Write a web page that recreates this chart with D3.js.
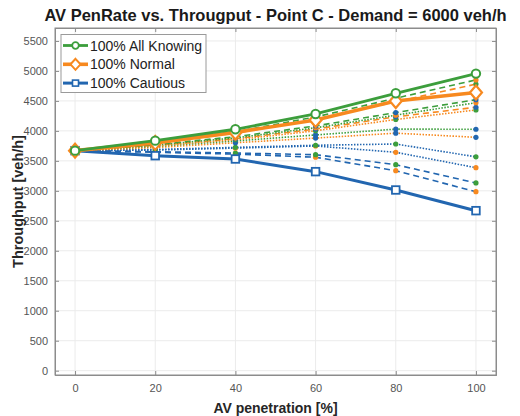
<!DOCTYPE html>
<html><head><meta charset="utf-8">
<script src="https://cdn.jsdelivr.net/npm/d3@7"></script>
<style>
html,body{margin:0;padding:0;background:#fff;}
svg{display:block;font-family:"Liberation Sans",Arial,Helvetica,sans-serif;}
</style></head>
<body>
<svg id="chart" width="520" height="416"></svg>
<script>
// ---- data ----
const penetration = [0, 20, 40, 60, 80, 100];
const xTicks = [0, 20, 40, 60, 80, 100];
const yTicks = [0, 500, 1000, 1500, 2000, 2500, 3000, 3500, 4000, 4500, 5000, 5500];

const allKnowing = [3670, 3837, 4027, 4282, 4627, 4955];
const normal     = [3670, 3800, 3975, 4182, 4499, 4640];
const cautious   = [3670, 3586, 3531, 3320, 3014, 2669];

// thin mixed series: line type, dash style, marker type
const mixG_O_dash = [3670, 3812, 3985, 4232, 4545, 4850];
const mixO_G_dash = [3670, 3800, 3962, 4192, 4485, 4780];
const mixG_B_dash = [3670, 3775, 3902, 4082, 4305, 4520];
const mixG_O_dot  = [3670, 3765, 3882, 4052, 4262, 4470];
const mixO_B_dash = [3670, 3760, 3870, 4030, 4235, 4394];
const mixO_G_dot  = [3670, 3750, 3852, 4002, 4190, 4349];
const mixG_B_dot  = [3670, 3742, 3832, 3932, 4030, 4027];
const mixO_B_dot  = [3670, 3722, 3802, 3880, 3962, 3893];
const mixB_G_dot  = [3670, 3690, 3725, 3760, 3781, 3567];
const mixB_O_dot  = [3670, 3680, 3712, 3748, 3643, 3386];
const mixB_G_dash = [3670, 3652, 3630, 3603, 3436, 3131];
const mixB_O_dash = [3670, 3643, 3612, 3560, 3336, 2986];

const seriesNames = ["100% All Knowing", "100% Normal", "100% Cautious"];

// ---- styling ----
const C = {g: "#3c9e3c", o: "#f7891f", b: "#2266b0"};
const W = 520, H = 416;
const m = {l: 55, r: 24, t: 28, b: 41};
const svg = d3.select("#chart");

const x = d3.scaleLinear().domain([-5, 105]).range([m.l, W - m.r]);
const y = d3.scaleLinear().domain([-72, 5716]).range([H - m.b, m.t]);

// grid
const g = svg.append("g");
g.selectAll(".gx").data(xTicks).join("line")
  .attr("x1", d => x(d)).attr("x2", d => x(d))
  .attr("y1", m.t).attr("y2", H - m.b)
  .attr("stroke", "#ebebeb").attr("stroke-width", 1);
g.selectAll(".gy").data(yTicks).join("line")
  .attr("x1", m.l).attr("x2", W - m.r)
  .attr("y1", d => y(d)).attr("y2", d => y(d))
  .attr("stroke", "#ebebeb").attr("stroke-width", 1);

// axes
const axisCol = "#8c8c8c";
const fmt = d3.format("d");
const xAxis = svg.append("g").attr("transform", `translate(0,${H - m.b})`)
  .call(d3.axisBottom(x).tickValues(xTicks).tickSize(-4).tickPadding(9).tickFormat(fmt));
const xAxisTop = svg.append("g").attr("transform", `translate(0,${m.t})`)
  .call(d3.axisTop(x).tickValues(xTicks).tickSize(-4).tickFormat(""));
const yAxis = svg.append("g").attr("transform", `translate(${m.l},0)`)
  .call(d3.axisLeft(y).tickValues(yTicks).tickSize(-4).tickPadding(7).tickFormat(fmt));
const yAxisR = svg.append("g").attr("transform", `translate(${W - m.r},0)`)
  .call(d3.axisRight(y).tickValues(yTicks).tickSize(-4).tickFormat(""));
[xAxis, xAxisTop, yAxis, yAxisR].forEach(a => {
  a.select(".domain").attr("stroke", axisCol);
  a.selectAll(".tick line").attr("stroke", axisCol);
  a.selectAll("text").attr("fill", "#555").attr("font-size", 11)
    .attr("font-family", "'Liberation Sans',Arial,sans-serif");
});
svg.append("rect").attr("x", m.l).attr("y", m.t)
  .attr("width", W - m.r - m.l).attr("height", H - m.b - m.t)
  .attr("fill", "none").attr("stroke", axisCol).attr("stroke-width", 1);

const line = d3.line().x((d, i) => x(penetration[i])).y(d => y(d));
const plot = svg.append("g");

const thin = [
  {v: mixB_O_dash, c: C.b, mk: C.o, dash: "6,4"},
  {v: mixB_G_dash, c: C.b, mk: C.g, dash: "6,4"},
  {v: mixB_O_dot,  c: C.b, mk: C.o, dash: "1.5,1.5"},
  {v: mixB_G_dot,  c: C.b, mk: C.g, dash: "1.5,1.5"},
  {v: mixO_B_dot,  c: C.o, mk: C.b, dash: "1.5,1.5"},
  {v: mixG_B_dot,  c: C.g, mk: C.b, dash: "1.5,1.5"},
  {v: mixO_G_dot,  c: C.o, mk: C.g, dash: "1.5,1.5"},
  {v: mixO_B_dash, c: C.o, mk: C.b, dash: "6,4"},
  {v: mixG_O_dot,  c: C.g, mk: C.o, dash: "1.5,1.5"},
  {v: mixG_B_dash, c: C.g, mk: C.b, dash: "6,4"},
  {v: mixO_G_dash, c: C.o, mk: C.g, dash: "6,4"},
  {v: mixG_O_dash, c: C.g, mk: C.o, dash: "6,4"}
];
thin.forEach(s => {
  plot.append("path").datum(s.v).attr("d", line)
    .attr("fill", "none").attr("stroke", s.c).attr("stroke-width", 1.6)
    .attr("stroke-dasharray", s.dash);
  plot.append("g").selectAll("circle").data(s.v.slice(1)).join("circle")
    .attr("cx", (d, i) => x(penetration[i + 1])).attr("cy", d => y(d))
    .attr("r", 2.6).attr("fill", s.mk);
});

// thick series
function thick(vals, col, width, marker) {
  plot.append("path").datum(vals).attr("d", line)
    .attr("fill", "none").attr("stroke", col).attr("stroke-width", width);
  const mg = plot.append("g");
  vals.forEach((d, i) => drawMarker(mg, x(penetration[i]), y(d), col, marker));
}
function drawMarker(sel, cx, cy, col, marker) {
  if (marker === "circle") {
    sel.append("circle").attr("cx", cx).attr("cy", cy).attr("r", 4.2)
      .attr("fill", "#fff").attr("stroke", col).attr("stroke-width", 2);
  } else if (marker === "diamond") {
    sel.append("path").attr("d", `M${cx},${cy-7}L${cx+6},${cy}L${cx},${cy+7}L${cx-6},${cy}Z`)
      .attr("fill", "#fff").attr("stroke", col).attr("stroke-width", 2.2);
  } else {
    sel.append("rect").attr("x", cx - 3.8).attr("y", cy - 3.8).attr("width", 7.6).attr("height", 7.6)
      .attr("fill", "#fff").attr("stroke", col).attr("stroke-width", 1.8);
  }
}
thick(cautious, C.b, 3, "square");
thick(normal, C.o, 3.6, "diamond");
thick(allKnowing, C.g, 2.8, "circle");

// legend
const lg = svg.append("g");
lg.append("rect").attr("x", 61).attr("y", 34.5).attr("width", 145).attr("height", 58)
  .attr("fill", "#fff").attr("stroke", "#9a9a9a").attr("stroke-width", 1);
const legItems = [
  {name: seriesNames[0], c: C.g, mk: "circle", w: 2.8},
  {name: seriesNames[1], c: C.o, mk: "diamond", w: 3.6},
  {name: seriesNames[2], c: C.b, mk: "square", w: 3}
];
legItems.forEach((it, i) => {
  const yy = 45.5 + i * 18.8;
  lg.append("line").attr("x1", 63).attr("x2", 88).attr("y1", yy).attr("y2", yy)
    .attr("stroke", it.c).attr("stroke-width", it.w);
  const s = lg.append("g");
  if (it.mk === "circle") {
    s.append("circle").attr("cx", 75.5).attr("cy", yy).attr("r", 3.3)
      .attr("fill", "#fff").attr("stroke", it.c).attr("stroke-width", 1.8);
  } else if (it.mk === "diamond") {
    s.append("path").attr("d", `M75.5,${yy-5.5}L80.5,${yy}L75.5,${yy+5.5}L70.5,${yy}Z`)
      .attr("fill", "#fff").attr("stroke", it.c).attr("stroke-width", 2);
  } else {
    s.append("rect").attr("x", 72.5).attr("y", yy - 3).attr("width", 6).attr("height", 6)
      .attr("fill", "#fff").attr("stroke", it.c).attr("stroke-width", 1.6);
  }
  lg.append("text").attr("x", 90).attr("y", yy).attr("dy", "0.36em")
    .attr("font-size", 14).attr("fill", "#222").text(it.name);
});

// titles
svg.append("text").attr("x", (m.l + W - m.r) / 2).attr("y", 21)
  .attr("text-anchor", "middle").attr("font-size", 16.5).attr("font-weight", "bold")
  .attr("fill", "#1a1a1a").text("AV PenRate vs. Througput - Point C - Demand = 6000 veh/h");
svg.append("text").attr("x", (m.l + W - m.r) / 2).attr("y", 413)
  .attr("text-anchor", "middle").attr("font-size", 14).attr("font-weight", "bold")
  .attr("fill", "#262626").text("AV penetration [%]");
svg.append("text").attr("transform", `translate(23,${(m.t + H - m.b) / 2}) rotate(-90)`)
  .attr("text-anchor", "middle").attr("font-size", 14.5).attr("font-weight", "bold")
  .attr("fill", "#262626").text("Throughput [veh/h]");
</script>
</body></html>
